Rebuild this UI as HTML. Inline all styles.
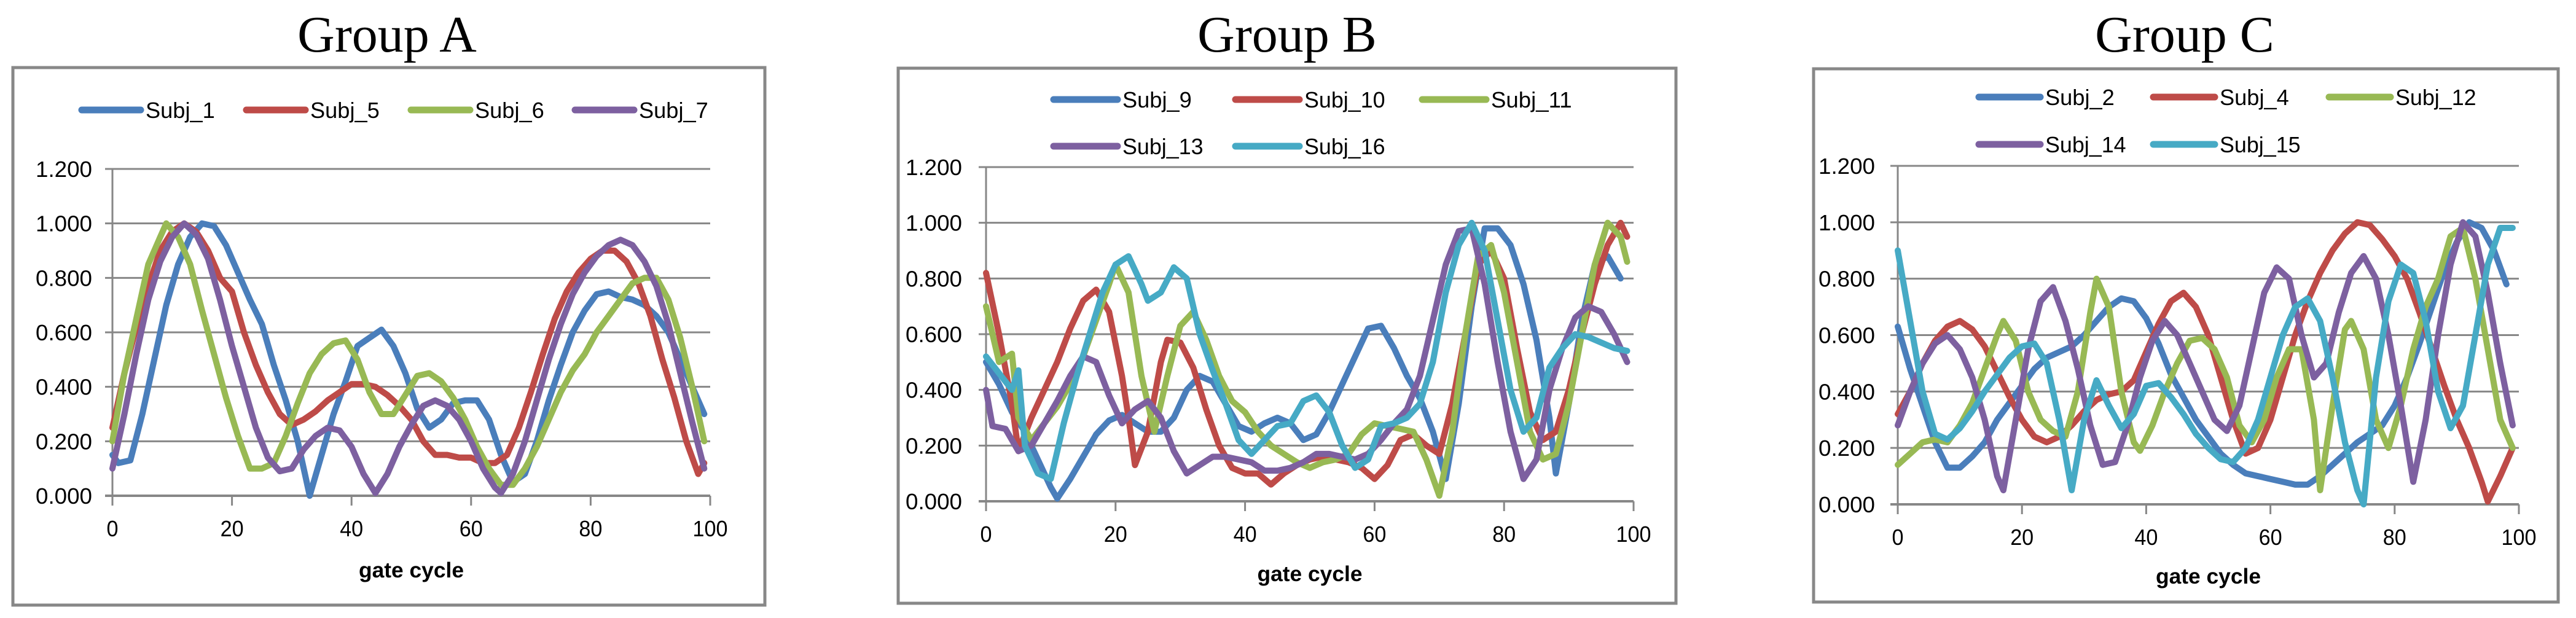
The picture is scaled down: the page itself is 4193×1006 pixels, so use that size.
<!DOCTYPE html>
<html><head><meta charset="utf-8"><style>
html,body{margin:0;padding:0;background:#fff;}
svg{display:block;}
.title{font-family:"Liberation Serif",serif;font-size:84px;fill:#000;}
.tick{font-family:"Liberation Sans",sans-serif;font-size:36px;fill:#000;}
.leg{font-family:"Liberation Sans",sans-serif;font-size:36px;fill:#000;}
.xt{font-family:"Liberation Sans",sans-serif;font-size:35px;font-weight:bold;fill:#000;}
</style></head><body>
<svg id="fig" width="4193" height="1006" viewBox="0 0 4193 1006" xmlns="http://www.w3.org/2000/svg"></svg>
<script>
// ---- data ----
const yTicks = [0, 0.2, 0.4, 0.6, 0.8, 1.0, 1.2];
const yTickLabels = ["0.000","0.200","0.400","0.600","0.800","1.000","1.200"];
const xTicks = [0, 20, 40, 60, 80, 100];
const xTickLabels = ["0","20","40","60","80","100"];
const groupTitles = ["Group A","Group B","Group C"];
const xAxisTitle = "gate cycle";

const namesA = ["Subj_1","Subj_5","Subj_6","Subj_7"];
const a1x = [0,1,3,5,7,9,11,13,15,17,19,21,23,25,27,29,31,33,35,37,39,41,43,45,47,49,51,53,55,57,59,61,63,65,67,69,71,73,75,77,79,81,83,85,87,89,91,93,95,97,99];
const a1y = [0.15,0.12,0.13,0.3,0.5,0.7,0.85,0.95,1.0,0.99,0.92,0.82,0.72,0.63,0.48,0.35,0.2,0.0,0.15,0.3,0.42,0.55,0.58,0.61,0.55,0.45,0.32,0.25,0.28,0.34,0.35,0.35,0.28,0.15,0.05,0.08,0.2,0.35,0.48,0.6,0.68,0.74,0.75,0.73,0.72,0.7,0.66,0.6,0.5,0.4,0.3];
const a5x = [0,2,4,6,8,10,12,14,16,18,20,22,24,26,28,30,32,34,36,38,40,42,44,46,48,50,52,54,56,58,60,62,64,66,68,70,72,74,76,78,80,82,84,86,88,90,92,94,96,98,99];
const a5y = [0.25,0.45,0.62,0.77,0.9,0.97,1.0,0.97,0.9,0.8,0.75,0.6,0.48,0.38,0.3,0.26,0.28,0.31,0.35,0.38,0.41,0.41,0.4,0.37,0.33,0.28,0.2,0.15,0.15,0.14,0.14,0.12,0.12,0.15,0.25,0.38,0.52,0.65,0.75,0.82,0.87,0.9,0.9,0.86,0.78,0.66,0.5,0.36,0.2,0.08,0.12];
const a6x = [0,2,4,6,8,9,11,13,15,17,19,21,23,25,27,29,31,33,35,37,39,41,43,45,47,49,51,53,55,57,59,61,63,65,67,69,71,73,75,77,79,81,83,85,87,89,91,93,95,97,99];
const a6y = [0.2,0.45,0.65,0.85,0.95,1.0,0.95,0.85,0.68,0.52,0.36,0.22,0.1,0.1,0.12,0.22,0.34,0.45,0.52,0.56,0.57,0.5,0.38,0.3,0.3,0.37,0.44,0.45,0.42,0.36,0.28,0.18,0.1,0.04,0.04,0.1,0.18,0.28,0.38,0.46,0.52,0.6,0.66,0.72,0.78,0.8,0.8,0.72,0.58,0.4,0.2];
const a7x = [0,2,4,6,8,10,12,14,16,18,20,22,24,26,28,30,32,34,36,38,40,42,44,46,48,50,52,54,56,58,60,62,64,65,67,69,71,73,75,77,79,81,83,85,87,89,91,93,95,97,99];
const a7y = [0.1,0.3,0.52,0.72,0.86,0.95,1.0,0.96,0.87,0.72,0.55,0.4,0.25,0.14,0.09,0.1,0.17,0.22,0.25,0.24,0.18,0.08,0.01,0.08,0.18,0.26,0.33,0.35,0.33,0.28,0.2,0.1,0.03,0.01,0.08,0.2,0.35,0.5,0.63,0.74,0.82,0.88,0.92,0.94,0.92,0.86,0.77,0.63,0.45,0.27,0.1];

const namesB = ["Subj_9","Subj_10","Subj_11","Subj_13","Subj_16"];
const b9x = [0,2,4,6,8,10,11,13,15,17,19,21,23,25,27,29,31,33,35,37,39,41,43,45,47,49,51,53,55,57,59,61,63,65,67,69,71,73,75,77,79,81,83,85,87,88,90,92,94,96,98];
const b9y = [0.5,0.42,0.32,0.25,0.15,0.05,0.01,0.08,0.16,0.24,0.29,0.31,0.28,0.25,0.25,0.3,0.4,0.45,0.43,0.35,0.27,0.25,0.28,0.3,0.28,0.22,0.24,0.32,0.42,0.52,0.62,0.63,0.55,0.45,0.37,0.25,0.08,0.35,0.7,0.98,0.98,0.92,0.78,0.58,0.3,0.1,0.35,0.65,0.85,0.88,0.8];
const b10x = [0,2,4,5,7,9,11,13,15,17,19,21,22,23,25,27,28,30,32,34,36,38,40,42,44,46,48,50,52,54,56,58,60,62,64,66,68,70,72,74,76,78,80,82,84,86,88,90,92,94,96,98,99];
const b10y = [0.82,0.6,0.35,0.18,0.3,0.4,0.5,0.62,0.72,0.76,0.68,0.45,0.3,0.13,0.25,0.5,0.58,0.57,0.48,0.33,0.2,0.12,0.1,0.1,0.06,0.1,0.13,0.15,0.16,0.15,0.14,0.12,0.08,0.13,0.22,0.24,0.2,0.17,0.35,0.6,0.85,0.9,0.8,0.55,0.32,0.22,0.25,0.4,0.6,0.78,0.92,1.0,0.95];
const b11x = [0,2,4,5,7,9,11,13,15,17,19,20,22,24,26,28,30,32,34,36,38,40,42,44,46,48,50,52,54,56,58,60,62,64,66,68,70,72,74,76,78,80,82,84,86,88,90,92,94,96,98,99];
const b11y = [0.7,0.5,0.53,0.3,0.22,0.28,0.34,0.42,0.52,0.65,0.78,0.85,0.75,0.45,0.25,0.45,0.63,0.68,0.58,0.45,0.36,0.32,0.25,0.2,0.17,0.14,0.12,0.14,0.15,0.17,0.24,0.28,0.27,0.26,0.25,0.15,0.02,0.25,0.6,0.88,0.92,0.75,0.5,0.25,0.15,0.17,0.35,0.6,0.85,1.0,0.95,0.86];
const b13x = [0,1,3,5,7,9,11,13,15,17,19,21,23,25,27,29,31,33,35,37,39,41,43,45,47,49,51,53,55,57,59,61,63,65,67,69,71,73,75,77,79,81,83,85,87,89,91,93,95,97,99];
const b13y = [0.4,0.27,0.26,0.18,0.2,0.28,0.36,0.45,0.52,0.5,0.38,0.28,0.33,0.36,0.3,0.18,0.1,0.13,0.16,0.16,0.15,0.14,0.11,0.11,0.12,0.14,0.17,0.17,0.16,0.15,0.17,0.22,0.28,0.33,0.45,0.65,0.85,0.97,0.98,0.78,0.5,0.25,0.08,0.15,0.4,0.55,0.66,0.7,0.68,0.6,0.5];
const b16x = [0,2,4,5,6,8,10,12,14,16,18,20,22,24,25,27,29,31,33,35,37,39,41,43,45,47,49,51,53,55,57,59,61,63,65,67,69,71,73,75,77,79,81,83,85,87,89,91,93,95,97,99];
const b16y = [0.52,0.46,0.4,0.47,0.2,0.1,0.08,0.28,0.45,0.6,0.75,0.85,0.88,0.78,0.72,0.75,0.84,0.8,0.6,0.47,0.35,0.22,0.17,0.22,0.27,0.28,0.36,0.38,0.32,0.2,0.12,0.15,0.27,0.28,0.3,0.35,0.5,0.75,0.92,1.0,0.9,0.65,0.4,0.25,0.3,0.48,0.55,0.6,0.59,0.57,0.55,0.54];

const namesC = ["Subj_2","Subj_4","Subj_12","Subj_14","Subj_15"];
const c2x = [0,2,4,6,8,10,12,14,16,18,20,22,24,26,28,30,32,34,36,38,40,42,44,46,48,50,52,54,56,58,60,62,64,66,68,70,72,74,76,78,80,82,84,86,88,90,92,94,96,98];
const c2y = [0.63,0.48,0.35,0.22,0.13,0.13,0.17,0.22,0.3,0.36,0.42,0.48,0.52,0.54,0.56,0.6,0.65,0.7,0.73,0.72,0.66,0.57,0.46,0.38,0.3,0.24,0.18,0.14,0.11,0.1,0.09,0.08,0.07,0.07,0.1,0.14,0.18,0.22,0.25,0.28,0.35,0.45,0.57,0.7,0.83,0.93,1.0,0.98,0.9,0.78];
const c4x = [0,2,4,6,8,10,12,14,16,18,20,22,24,26,28,30,32,34,36,38,40,42,44,46,48,50,52,54,56,58,60,62,64,66,68,70,72,74,76,78,80,82,84,86,88,90,92,94,95,97,99];
const c4y = [0.32,0.4,0.5,0.58,0.63,0.65,0.62,0.56,0.47,0.38,0.3,0.24,0.22,0.24,0.28,0.33,0.37,0.39,0.4,0.44,0.54,0.64,0.72,0.75,0.7,0.6,0.45,0.3,0.18,0.2,0.3,0.45,0.6,0.72,0.82,0.9,0.96,1.0,0.99,0.94,0.88,0.8,0.68,0.55,0.42,0.3,0.2,0.08,0.01,0.1,0.2];
const c12x = [0,2,4,6,8,10,12,14,16,17,19,21,23,25,27,29,31,32,34,36,38,39,41,43,45,47,49,51,53,55,57,59,61,63,65,67,68,70,72,73,75,77,79,81,83,85,87,89,91,93,95,97,99];
const c12y = [0.14,0.18,0.22,0.23,0.22,0.28,0.36,0.48,0.6,0.65,0.58,0.4,0.3,0.26,0.24,0.4,0.68,0.8,0.7,0.4,0.22,0.19,0.28,0.4,0.5,0.58,0.59,0.55,0.45,0.28,0.22,0.3,0.45,0.55,0.55,0.3,0.05,0.35,0.62,0.65,0.55,0.3,0.2,0.35,0.55,0.7,0.8,0.95,0.98,0.8,0.55,0.3,0.2];
const c14x = [0,2,4,6,8,10,12,14,16,17,19,21,23,25,27,29,31,33,35,37,39,41,43,45,47,49,51,53,55,57,59,61,63,65,67,69,71,73,75,77,79,81,83,85,87,89,91,93,95,97,99];
const c14y = [0.28,0.4,0.5,0.57,0.6,0.55,0.45,0.3,0.1,0.05,0.3,0.55,0.72,0.77,0.65,0.48,0.28,0.14,0.15,0.28,0.45,0.58,0.65,0.6,0.5,0.4,0.3,0.26,0.35,0.55,0.75,0.84,0.8,0.6,0.45,0.5,0.68,0.82,0.88,0.8,0.6,0.35,0.08,0.3,0.6,0.85,1.0,0.95,0.75,0.5,0.28];
const c15x = [0,2,4,6,8,10,12,14,16,18,20,22,24,26,28,30,32,34,36,38,40,42,44,46,48,50,52,54,56,58,60,62,64,66,68,70,72,74,75,77,79,81,83,85,87,89,91,93,95,97,99];
const c15y = [0.9,0.65,0.4,0.25,0.23,0.27,0.33,0.4,0.46,0.52,0.56,0.57,0.5,0.3,0.05,0.3,0.44,0.35,0.27,0.32,0.42,0.43,0.38,0.32,0.25,0.2,0.16,0.15,0.2,0.3,0.45,0.6,0.7,0.73,0.65,0.45,0.22,0.05,0.0,0.45,0.72,0.85,0.82,0.65,0.4,0.27,0.35,0.6,0.85,0.98,0.98];

const colors = {blue:"#4a7ebb", red:"#be4b48", green:"#98b954", purple:"#7d60a0", cyan:"#46aac5"};

// ---- layout (not data) ----
const panels = [
 {frame:[21,110,1224,875], x0:183, x1:1156, y0:807, y1:275, titleX:630, labelR:150, gateY:940,
  legend:[[129,179],[397,179],[665,179],[932,179]], legW:100,
  series:[[a1x,a1y,colors.blue],[a5x,a5y,colors.red],[a6x,a6y,colors.green],[a7x,a7y,colors.purple]], names:namesA},
 {frame:[1462,111,1266,871], x0:1605, x1:2659, y0:816, y1:272, titleX:2095, labelR:1566, gateY:946,
  legend:[[1711,162],[2007,162],[2311,162],[1711,238],[2007,238]], legW:108,
  series:[[b9x,b9y,colors.blue],[b10x,b10y,colors.red],[b11x,b11y,colors.green],[b13x,b13y,colors.purple],[b16x,b16y,colors.cyan]], names:namesB},
 {frame:[2952,112,1212,868], x0:3089, x1:4100, y0:821, y1:270, titleX:3556, labelR:3052, gateY:950,
  legend:[[3217,158],[3501,158],[3787,158],[3217,235],[3501,235]], legW:104,
  series:[[c2x,c2y,colors.blue],[c4x,c4y,colors.red],[c12x,c12y,colors.green],[c14x,c14y,colors.purple],[c15x,c15y,colors.cyan]], names:namesC}
];
const NS = "http://www.w3.org/2000/svg";
const svg = document.getElementById("fig");
function mk(tag, attrs, parent){ const e=document.createElementNS(NS,tag); for(const k in attrs) e.setAttribute(k,attrs[k]); (parent||svg).appendChild(e); return e; }
function squeeze(el, perChar){ el.setAttribute("textLength", (el.textContent.length*perChar).toFixed(1)); el.setAttribute("lengthAdjust","spacingAndGlyphs"); }

panels.forEach((p, pi) => {
  const g = mk("g", {});
  
  
  const sx = v => p.x0 + (p.x1 - p.x0) * v / 100;
  const sy = v => p.y0 + (p.y1 - p.y0) * v / 1.2;

  const t = mk("text", {x:p.titleX, y:84, "text-anchor":"middle", class:"title"}, g);
  t.textContent = groupTitles[pi];
  
  

  const fr = mk("rect", {x:p.frame[0], y:p.frame[1], width:p.frame[2], height:p.frame[3], fill:"#fff", stroke:"#888", "stroke-width":5}, g);
  
  

  yTicks.forEach((v, i) => {
    const gl = mk("line", {x1:p.x0-12, x2:p.x1, y1:sy(v), y2:sy(v), stroke:"#878787", "stroke-width": i===0?4:3}, g);
    
    
    const tl = mk("text", {x:p.labelR, y:sy(v)+13, "text-anchor":"end", class:"tick"}, g);
    tl.textContent = yTickLabels[i];
    squeeze(tl, 18.4);
    
    
  });
  const ya = mk("line", {x1:p.x0, x2:p.x0, y1:sy(1.2), y2:p.y0, stroke:"#878787", "stroke-width":3}, g);
  
  
  xTicks.forEach((v, i) => {
    const tk = mk("line", {x1:sx(v), x2:sx(v), y1:p.y0, y2:p.y0+16, stroke:"#878787", "stroke-width":3}, g);
    
    
    const tl = mk("text", {x:sx(v), y:p.y0+66, "text-anchor":"middle", class:"tick"}, g);
    tl.textContent = xTickLabels[i];
    squeeze(tl, 19);
    
    
  });
  const xt = mk("text", {x:(p.x0+p.x1)/2, y:p.gateY, "text-anchor":"middle", class:"xt"}, g);
  xt.textContent = xAxisTitle;
  squeeze(xt, 17.1);
  
  

  p.series.forEach((s, si) => {
    const pts = s[0].map((xv, k) => sx(xv).toFixed(1) + "," + sy(s[1][k]).toFixed(1)).join(" ");
    const pl = mk("polyline", {points:pts, fill:"none", stroke:s[2], "stroke-width":10, "stroke-linejoin":"round", "stroke-linecap":"round"}, g);
    
    

    const lp = p.legend[si];
    const lg = mk("g", {}, g);
    
    
    mk("line", {x1:lp[0]+4, x2:lp[0]+p.legW, y1:lp[1], y2:lp[1], stroke:s[2], "stroke-width":11, "stroke-linecap":"round"}, lg);
    const lt = mk("text", {x:lp[0]+p.legW+8, y:lp[1]+13, class:"leg"}, lg);
    lt.textContent = p.names[si];
    squeeze(lt, 18.8);
  });
});
</script>
</body></html>
